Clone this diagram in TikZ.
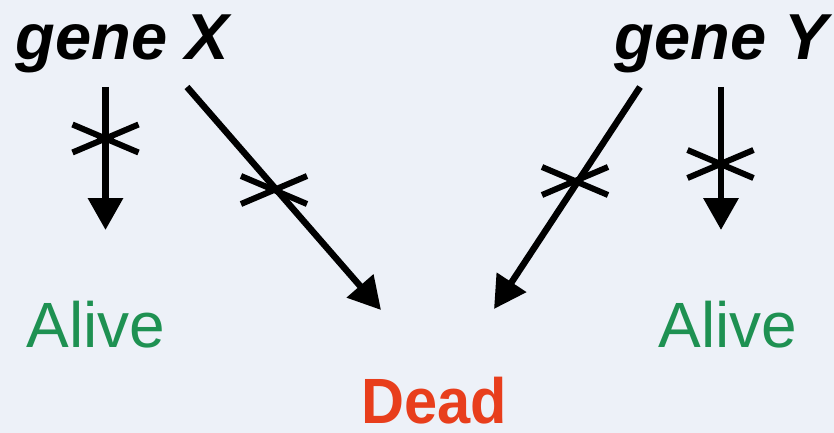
\documentclass[tikz,border=0pt]{standalone}
\usepackage{fontspec}
\setmainfont{Liberation Sans}
\usetikzlibrary{arrows.meta}
\definecolor{bgc}{RGB}{237,241,248}
\definecolor{alivegreen}{RGB}{30,145,82}
\definecolor{deadred}{RGB}{232,62,28}
\begin{document}
\begin{tikzpicture}[x=1pt,y=-1pt,
  gene/.style={font=\fontsize{65}{65}\selectfont\bfseries\itshape, inner sep=0pt, anchor=base},
  alive/.style={font=\fontsize{64}{64}\selectfont, text=alivegreen, inner sep=0pt, anchor=base},
  dead/.style={font=\fontsize{64}{64}\selectfont\bfseries, text=deadred, inner sep=0pt, anchor=base},
  link/.style={line width=6.5pt, -{Triangle[length=32pt,width=34pt]}},
  blockmark/.style={line width=6pt}
]
\fill[bgc] (0,0) rectangle (834,433);
\useasboundingbox (0,0) rectangle (834,433);

\node[gene] (gx) at (122,60) {gene X};
\node[gene] (gy) at (721,60) {gene Y};
\node[alive] (al) at (96,347) {Alive};
\node[alive] (ar) at (728,347) {Alive};
\node[dead, xscale=0.93] (dd) at (434,423) {Dead};

\coordinate (s1) at (105.5,87);
\coordinate (e1) at (105.5,230);
\coordinate (s2) at (187,87);
\coordinate (e2) at (381,310);
\coordinate (s3) at (640,87);
\coordinate (e3) at (494,309);
\coordinate (s4) at (721,87);
\coordinate (e4) at (721,230);

\draw[link] (s1) -- (e1);
\draw[link] (s2) -- (e2);
\draw[link] (s3) -- (e3);
\draw[link] (s4) -- (e4);

\coordinate (c1) at (105.5,138.5);
\coordinate (c2) at (274,190);
\coordinate (c3) at (575,181);
\coordinate (c4) at (720.5,164);
\foreach \c in {c1,c2,c3,c4}{
  \draw[blockmark] ([shift={(-33,-14)}]\c) -- ([shift={(33,14)}]\c)
                   ([shift={(-33,14)}]\c) -- ([shift={(33,-14)}]\c);
}
\end{tikzpicture}
\end{document}
